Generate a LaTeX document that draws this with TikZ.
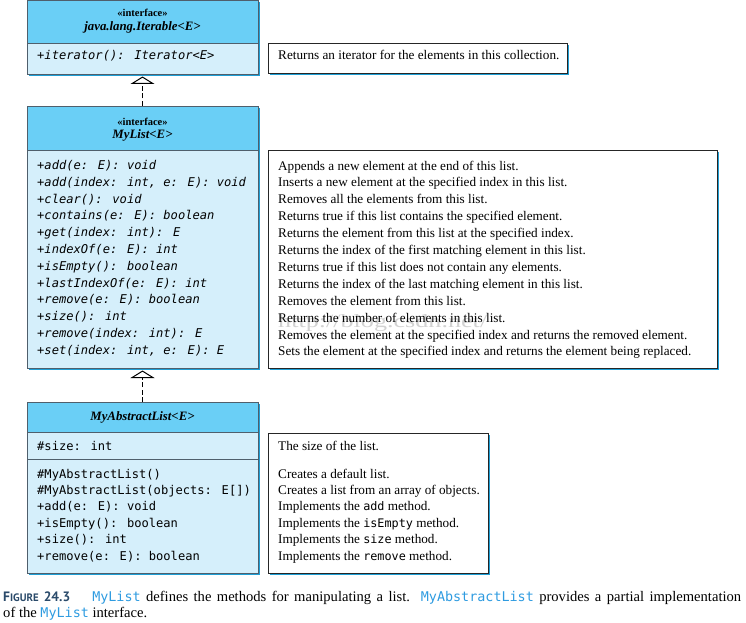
\documentclass[tikz,border=0pt]{standalone}
\usepackage{fontspec}
\usepackage{graphicx}
\setmainfont{Liberation Serif}
\newfontfamily\umono{DejaVu Sans Mono}
\newfontfamily\lblfont{PT Sans}
\usetikzlibrary{arrows.meta,shadows}
\definecolor{hdr}{HTML}{6ACFF6}
\definecolor{bodyc}{HTML}{D5EFFB}
\definecolor{bord}{HTML}{4F5F6C}
\definecolor{shd}{HTML}{1E9FD6}
\definecolor{capblue}{HTML}{2E9BE0}
\definecolor{capdark}{HTML}{2A4A6A}
\definecolor{wmark}{HTML}{D2D2D2}
\newcommand{\capmono}[1]{{\umono\color{capblue}\fontsize{13.4}{15}\selectfont #1}}
\begin{document}
\begin{tikzpicture}[x=1pt,y=-1pt,
  umlbox/.style={draw=bord, line width=0.7pt, fill=bodyc, anchor=north west, inner sep=0pt, outer sep=0pt,
    drop shadow={shadow xshift=1.8pt, shadow yshift=-1.8pt, fill=shd, opacity=1}},
  hdrbox/.style={draw=bord, line width=0.7pt, fill=hdr, anchor=north west, inner sep=0pt, outer sep=0pt},
  descbox/.style={draw=black!85, line width=0.8pt, fill=white, anchor=north west, inner sep=0pt, outer sep=0pt,
    drop shadow={shadow xshift=1.8pt, shadow yshift=-1.8pt, fill=shd, opacity=1}},
  mth/.style={anchor=base west, inner sep=0pt, font=\umono\fontsize{12.1}{14}\selectfont},
  imth/.style={mth, font=\umono\itshape\fontsize{12.1}{14}\selectfont},
  dsc/.style={anchor=base west, inner sep=0pt, font=\fontsize{13.2}{15}\selectfont},
  stereo/.style={anchor=base, inner sep=0pt, font=\bfseries\fontsize{10.5}{13}\selectfont},
  cname/.style={anchor=base, inner sep=0pt, font=\bfseries\itshape\fontsize{12.8}{14}\selectfont},
  dep/.style={line width=1.6pt, dash pattern=on 5pt off 2.5pt, shorten >=2.5pt,
    -{Triangle[open, width=24pt, length=7.5pt, line width=1pt]}},
  captxt/.style={anchor=base west, inner sep=0pt, font=\fontsize{14.6}{16}\selectfont}
]
\useasboundingbox (0,0) rectangle (746,623);

% ---------- Iterable ----------
\node[umlbox, minimum width=231pt, minimum height=74pt] (iter) at (27,0) {};
\node[hdrbox, minimum width=231pt, minimum height=43pt] (iterH) at (27,0) {};
\node[stereo] (iterS) at (142.5,16.5) {«interface»};
\node[cname] (iterN) at (142.5,31) {java.lang.Iterable<E>};
\node[imth] (iterM) at (37,59.5) {+iterator(): Iterator<E>};

\node[descbox, minimum width=299pt, minimum height=30pt] (d1) at (268,43) {};
\node[dsc] (d1t) at (278,60) {Returns an iterator for the elements in this collection.};

% ---------- MyList ----------
\node[umlbox, minimum width=231pt, minimum height=262pt] (ml) at (27,106) {};
\node[hdrbox, minimum width=231pt, minimum height=44pt] (mlH) at (27,106) {};
\node[stereo] (mlS) at (142.5,125.5) {«interface»};
\node[cname] (mlN) at (142.5,138.5) {MyList<E>};
\foreach \t [count=\i from 0] in {{+add(e: E): void},{+add(index: int, e: E): void},{+clear(): void},
  {+contains(e: E): boolean},{+get(index: int): E},{+indexOf(e: E): int},{+isEmpty(): boolean},
  {+lastIndexOf(e: E): int},{+remove(e: E): boolean},{+size(): int},{+remove(index: int): E},
  {+set(index: int, e: E): E}}
  \node[imth] (mlm\i) at (37,169.5+16.8*\i) {\t};

\node[descbox, minimum width=449pt, minimum height=218pt] (d2) at (268,150) {};
\node[anchor=base west, inner sep=0pt, text=wmark] (wm) at (278,327)
  {\resizebox{209pt}{13pt}{http://blog.csdn.net/}};
\foreach \t [count=\i from 0] in {{Appends a new element at the end of this list.},
  {Inserts a new element at the specified index in this list.},
  {Removes all the elements from this list.},
  {Returns true if this list contains the specified element.},
  {Returns the element from this list at the specified index.},
  {Returns the index of the first matching element in this list.},
  {Returns true if this list does not contain any elements.},
  {Returns the index of the last matching element in this list.},
  {Removes the element from this list.},
  {Returns the number of elements in this list.},
  {Removes the element at the specified index and returns the removed element.},
  {Sets the element at the specified index and returns the element being replaced.}}
  \node[dsc] (d2t\i) at (278,170+16.9*\i) {\t};

% ---------- MyAbstractList ----------
\node[umlbox, minimum width=231pt, minimum height=171pt] (al) at (27,402) {};
\node[hdrbox, minimum width=231pt, minimum height=30pt] (alH) at (27,402) {};
\node[cname] (alN) at (142.5,420.5) {MyAbstractList<E>};
\node[mth] (alA) at (37,450) {\#size: int};
\draw[draw=bord, line width=0.7pt] (27,459.5) -- (258,459.5);
\foreach \t [count=\i from 0] in {{\#MyAbstractList()},{\#MyAbstractList(objects: E[])},{+add(e: E): void},
  {+isEmpty(): boolean},{+size(): int},{+remove(e: E): boolean}}
  \node[mth] (alm\i) at (37,478+16.4*\i) {\t};

\node[descbox, minimum width=220pt, minimum height=140pt] (d3) at (268,433) {};
\node[dsc] (d3a) at (278,450) {The size of the list.};
\foreach \t [count=\i from 0] in {{Creates a default list.},{Creates a list from an array of objects.},
  {Implements the {\umono\fontsize{11.8}{13}\selectfont add} method.},
  {Implements the {\umono\fontsize{11.8}{13}\selectfont isEmpty} method.},
  {Implements the {\umono\fontsize{11.8}{13}\selectfont size} method.},
  {Implements the {\umono\fontsize{11.8}{13}\selectfont remove} method.}}
  \node[dsc] (d3t\i) at (278,478+16.4*\i) {\t};

% ---------- connectors ----------
\draw[dep] (mlH.north) -- (iter.south);
\draw[dep] (alH.north) -- (ml.south);

% ---------- caption ----------
\node[captxt] (cap1) at (3,601) {\hbox to 738pt{{\lblfont\bfseries\color{capdark}\fontsize{13.6}{15}\selectfont F\fontsize{10.8}{12}\selectfont IGURE\fontsize{13.6}{15}\selectfont\ 24.3}\hspace{22pt}\capmono{MyList} defines the methods for manipulating a list.\ \ \capmono{MyAbstractList} provides a partial implementation}};
\node[captxt] (cap2) at (3,617) {of the \capmono{MyList} interface.};
\end{tikzpicture}
\end{document}
